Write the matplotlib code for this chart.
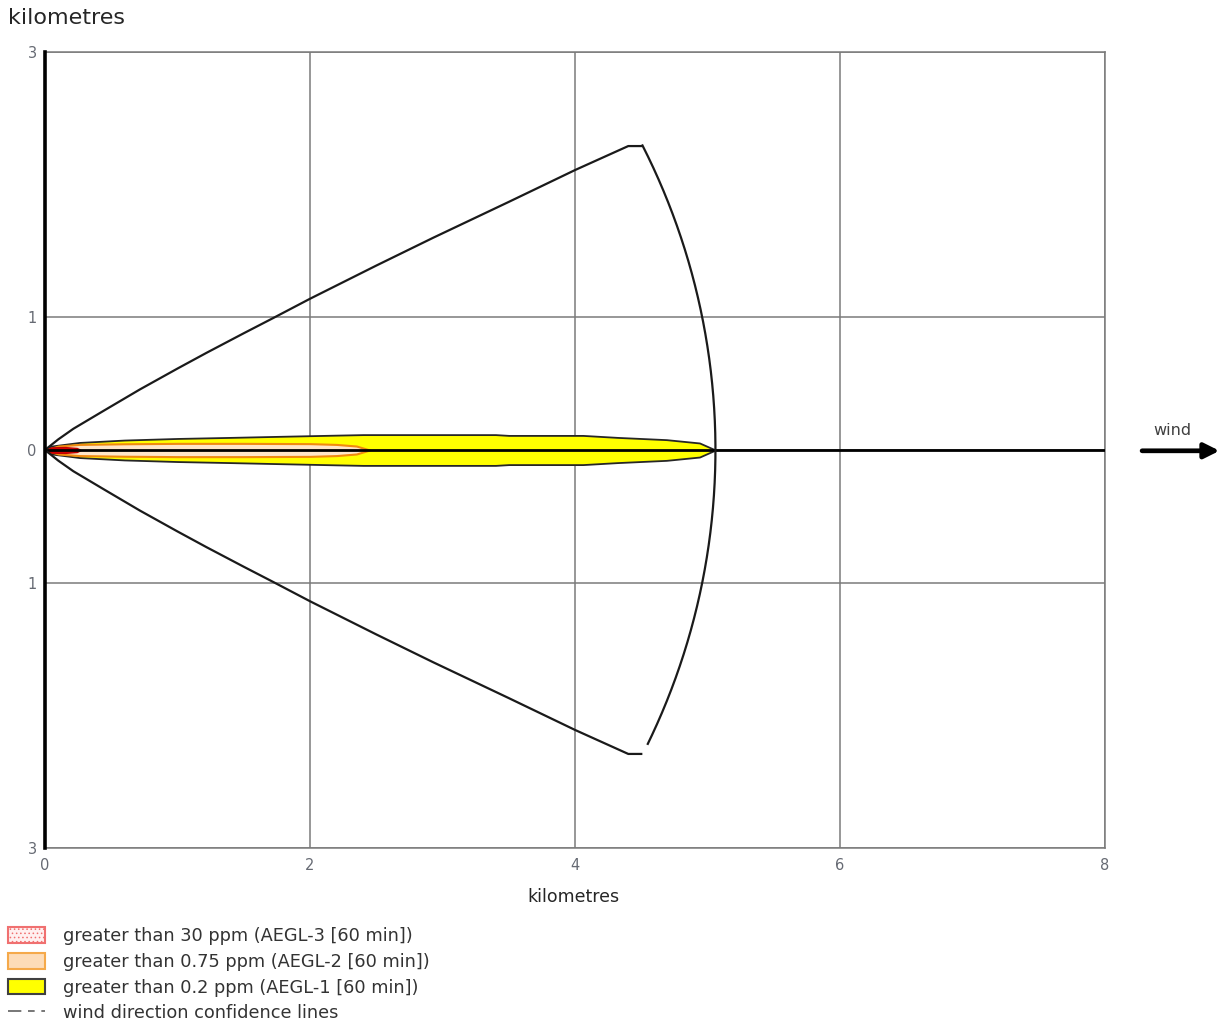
import numpy as np
import matplotlib
matplotlib.use("Agg")
import matplotlib.pyplot as plt
from matplotlib.patches import Patch
from matplotlib.lines import Line2D

# ---------------- data (kilometres) ----------------
# upper wind-direction confidence line (lower one is its mirror image)
conf_x = [0.0, 0.1, 0.214, 0.45, 0.717, 1.0, 1.22, 1.5, 1.723, 2.0, 2.5, 2.93, 3.5, 4.0, 4.402, 4.50]
conf_y = [0.0, 0.08, 0.16, 0.30, 0.457, 0.614, 0.733, 0.88, 0.995, 1.14, 1.39, 1.60, 1.87, 2.11, 2.291, 2.291]
arc_radius = 5.06
arc_top_deg = 26.98
arc_bottom_deg = -25.96

# AEGL-1 (> 0.2 ppm) plume: downwind distance and half width
aegl1_x = [0.0, 0.05, 0.26, 0.6, 1.0, 1.4, 1.72, 2.2, 2.4, 3.4, 3.5, 4.06, 4.32, 4.69, 4.94, 5.06]
aegl1_hw = [0.0, 0.03, 0.057, 0.075, 0.087, 0.095, 0.102, 0.112, 0.116, 0.116, 0.11, 0.11, 0.095, 0.078, 0.053, 0.0]

# AEGL-2 (> 0.75 ppm)
aegl2_x = [0.0, 0.1, 0.26, 0.6, 1.0, 1.5, 2.0, 2.2, 2.35, 2.45]
aegl2_hw = [0.0, 0.03, 0.042, 0.047, 0.05, 0.05, 0.048, 0.042, 0.03, 0.0]

# AEGL-3 (> 30 ppm)
aegl3_x = [0.0, 0.05, 0.15, 0.24, 0.27]
aegl3_hw = [0.0, 0.02, 0.022, 0.015, 0.0]

wind_line_x = [0.0, 8.0]

x_ticks = [0, 2, 4, 6, 8]
x_ticklabels = ["0", "2", "4", "6", "8"]
y_ticks = [-3, -1, 0, 1, 3]
y_ticklabels = ["3", "1", "0", "1", "3"]

legend_labels = [
    "greater than 30 ppm (AEGL-3 [60 min])",
    "greater than 0.75 ppm (AEGL-2 [60 min])",
    "greater than 0.2 ppm (AEGL-1 [60 min])",
    "wind direction confidence lines",
]

# ---------------- figure ----------------
W, H = 1225, 1027
plt.rcParams["hatch.linewidth"] = 0.6
fig = plt.figure(figsize=(W / 100, H / 100), dpi=100)
ax = fig.add_axes([45 / W, 1 - 848 / H, 1060 / W, 796 / H])
ax.set_xlim(0, 8)
ax.set_ylim(-3, 3)

grid_col = "#7a7a7a"
ax.set_xticks(x_ticks)
ax.set_xticklabels(x_ticklabels)
ax.set_yticks(y_ticks)
ax.set_yticklabels(y_ticklabels)
ax.tick_params(length=0, labelsize=10.5, labelcolor="#666a73")
ax.tick_params(axis="x", pad=7)
ax.tick_params(axis="y", pad=6)
ax.grid(True, color=grid_col, lw=1.1, zorder=0)
ax.set_axisbelow(True)
for s in ["top", "right", "bottom"]:
    ax.spines[s].set_color(grid_col)
    ax.spines[s].set_linewidth(1.1)
ax.spines["left"].set_color("black")
ax.spines["left"].set_linewidth(2.6)
ax.spines["left"].set_zorder(10)

# plume footprints
a1x = np.array(aegl1_x); a1w = np.array(aegl1_hw)
ax.fill_between(a1x, -a1w, a1w, facecolor="#ffff00", edgecolor="#262626", lw=1.3, zorder=3)
a2x = np.array(aegl2_x); a2w = np.array(aegl2_hw)
ax.fill_between(a2x, -a2w, a2w, facecolor="#ffe6c8", edgecolor="#f08a10", lw=1.5, zorder=4)
a3x = np.array(aegl3_x); a3w = np.array(aegl3_hw)
ax.fill_between(a3x, -a3w, a3w, facecolor="#e00000", edgecolor="#c00000", lw=1.0, zorder=5)

# wind centre line
ax.plot(wind_line_x, [0, 0], color="black", lw=2.0, zorder=6, solid_capstyle="butt")

# confidence lines
cx = np.array(conf_x); cy = np.array(conf_y)
ax.plot(cx, cy, color="#1a1a1a", lw=1.6, zorder=7)
ax.plot(cx, -cy, color="#1a1a1a", lw=1.6, zorder=7)
th = np.radians(np.linspace(arc_top_deg, arc_bottom_deg, 200))
ax.plot(arc_radius * np.cos(th), arc_radius * np.sin(th), color="#1a1a1a", lw=1.6, zorder=7)

# wind arrow outside the plot
ax.annotate("", xy=(1.108, 0.499), xytext=(1.035, 0.499), xycoords="axes fraction",
            textcoords="axes fraction",
            arrowprops=dict(arrowstyle="-|>,head_length=0.9,head_width=0.45",
                            lw=3.4, color="black", shrinkA=0, shrinkB=0),
            annotation_clip=False)
ax.text(1.064, 0.524, "wind", transform=ax.transAxes, ha="center", va="center",
        fontsize=11.5, color="#404040", clip_on=False)

# axis titles
fig.text(8 / W, 1 - 18 / H, "kilometres", fontsize=16, color="#262626", ha="left", va="center")
fig.text(573 / W, 1 - 897 / H, "kilometres", fontsize=12.5, color="#262626", ha="center", va="center")

# legend
handles = [
    Patch(facecolor="#fff0f0", edgecolor="#f07070", hatch="....", lw=1.5),
    Patch(facecolor="#fddcb8", edgecolor="#f5a94a", lw=1.5),
    Patch(facecolor="#ffff00", edgecolor="#404040", lw=1.5),
    Line2D([0], [0], color="#606060", lw=1.2, dashes=(8, 4, 4, 4)),
]
fig.legend(handles, legend_labels, loc="upper left", bbox_to_anchor=(8 / W, 1 - 927 / H),
           frameon=False, fontsize=12.8, handlelength=2.1, handleheight=0.98,
           handletextpad=1.0, labelspacing=0.44, borderpad=0, borderaxespad=0,
           labelcolor="#333333")

fig.savefig("out.png", dpi=100)
